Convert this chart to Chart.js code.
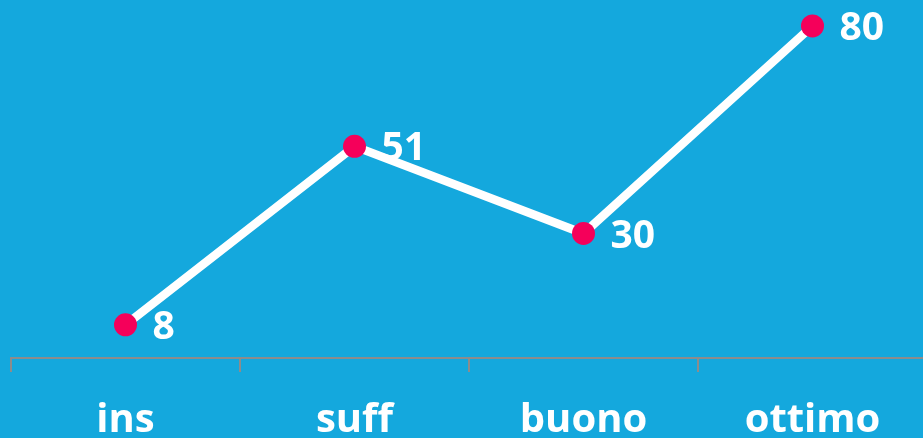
<!DOCTYPE html>
<html>
	<head>
		<meta charset="utf-8" />
		<script src="https://cdn.jsdelivr.net/npm/chart.js@4/dist/chart.umd.min.js"></script>
		<style>
			html, body {
				margin: 0;
				padding: 0;
				background: #14a8dd;
				overflow: hidden;
			}
			/* canvas is a bit bigger than the window, the labels run off the bottom */
			#wrap {
				width: 923px;
				height: 438px;
				overflow: hidden;
			}
		</style>
		<title>Valutazioni</title>
	</head>
	<body>
		<div id="wrap">
			<canvas id="myChart" width="927" height="470"></canvas>
		</div>
		<script>
			// Chart data
			const categories = ["ins", "suff", "buono", "ottimo"];
			const values = [8, 51, 30, 80];

			// Draw the value next to each point
			const valueLabels = {
				id: "valueLabels",
				afterDatasetsDraw(chart) {
					const ctx = chart.ctx;
					const meta = chart.getDatasetMeta(0);
					ctx.save();
					ctx.fillStyle = "#ffffff";
					ctx.font = "bold 39px 'Open Sans'";
					ctx.textAlign = "left";
					ctx.textBaseline = "middle";
					meta.data.forEach((pt, i) => {
						ctx.fillText(String(values[i]), pt.x + 27, pt.y + 3);
					});
					ctx.restore();
				},
			};

			new Chart(document.getElementById("myChart").getContext("2d"), {
				type: "line",
				data: {
					labels: categories,
					datasets: [
						{
							data: values,
							borderColor: "#ffffff",
							borderWidth: 8.5,
							pointBackgroundColor: "#f5005a",
							pointBorderWidth: 0,
							pointRadius: 11.5,
							tension: 0,
						},
					],
				},
				options: {
					responsive: false,
					animation: false,
					layout: {
						autoPadding: false,
						padding: { left: 11, right: 0, top: 0, bottom: 0 },
					},
					plugins: {
						legend: { display: false },
						tooltip: { enabled: false },
					},
					scales: {
						x: {
							offset: true,
							grid: {
								offset: true,
								drawOnChartArea: false,
								drawTicks: true,
								tickLength: 14,
								color: "#8c8c8c",
								lineWidth: 2,
							},
							border: { display: true, color: "#8c8c8c", width: 2 },
							ticks: {
								color: "#ffffff",
								padding: 25,
								font: { family: "'Open Sans'", size: 40, weight: "bold", lineHeight: "48px" },
							},
						},
						y: {
							display: false,
							min: 0,
							max: 86.25,
						},
					},
				},
				plugins: [valueLabels],
			});
		</script>
	</body>
</html>
